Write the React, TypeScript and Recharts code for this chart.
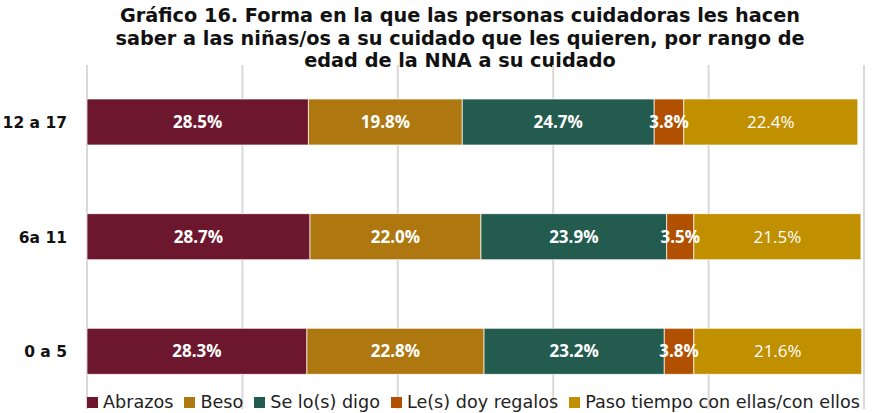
import React from "react"
import { BarChart, Bar, XAxis, YAxis, CartesianGrid, LabelList } from "recharts"

const categories = ["12 a 17", "6a 11", "0 a 5"]
const abrazos = [28.5, 28.7, 28.3]
const beso = [19.8, 22.0, 22.8]
const digo = [24.7, 23.9, 23.2]
const regalos = [3.8, 3.5, 3.8]
const paso = [22.4, 21.5, 21.6]
const xTicks = [0, 20, 40, 60, 80, 100]

const series = [
  { key: "abrazos", name: "Abrazos", values: abrazos, color: "#6D172F", bold: true },
  { key: "beso", name: "Beso", values: beso, color: "#AE770F", bold: true },
  { key: "digo", name: "Se lo(s) digo", values: digo, color: "#245B4F", bold: true },
  { key: "regalos", name: "Le(s) doy regalos", values: regalos, color: "#B05000", bold: true },
  { key: "paso", name: "Paso tiempo con ellas/con ellos", values: paso, color: "#C09000", bold: false },
]

const data = categories.map((c, i) => {
  const row: Record<string, string | number> = { name: c }
  series.forEach((s) => (row[s.key] = s.values[i]))
  return row
})

const fmt = (v: any) => `${Number(v).toFixed(1)}%`

export default function App() {
  return (
    <div style={{ position: "absolute", left: 0, top: 0, width: 891, height: 413, background: "#fff" }}>
      <div
        style={{
          position: "absolute",
          left: 0,
          top: 5,
          width: 920,
          textAlign: "center",
          fontFamily: "'DejaVu Sans', sans-serif",
          fontWeight: "bold",
          fontSize: 19.3,
          lineHeight: "22.5px",
          color: "#111",
        }}
      >
        Gráfico 16. Forma en la que las personas cuidadoras les hacen
        <br />
        saber a las niñas/os a su cuidado que les quieren, por rango de
        <br />
        edad de la NNA a su cuidado
      </div>
      <BarChart
        width={891}
        height={413}
        data={data}
        layout="vertical"
        margin={{ top: 65, right: 27, bottom: 4, left: 0 }}
        barSize={46}
        style={{ position: "absolute", left: 0, top: 0 }}
      >
        <CartesianGrid horizontal={false} stroke="#d9d9d9" strokeWidth={2} />
        <XAxis type="number" domain={[0, 100]} ticks={xTicks} hide />
        <YAxis
          type="category"
          dataKey="name"
          width={87}
          axisLine={false}
          tickLine={false}
          tickMargin={14}
          tick={{ fill: "#111", fontSize: 15.5, fontWeight: "bold", fontFamily: "'DejaVu Sans', sans-serif" }}
        />
        {series.map((s) => (
          <Bar key={s.key} dataKey={s.key} name={s.name} stackId="a" fill={s.color} stroke="#fff" strokeWidth={0.7} isAnimationActive={false}>
            <LabelList
              dataKey={s.key}
              position="center"
              formatter={fmt}
              fill="#fff"
              style={{ fontSize: 17, fontWeight: s.bold ? "bold" : "normal", fontFamily: "'Open Sans', sans-serif" }}
            />
          </Bar>
        ))}
      </BarChart>
      <div
        style={{
          position: "absolute",
          left: 87,
          top: 392,
          display: "flex",
          gap: 11,
          fontFamily: "'DejaVu Sans', sans-serif",
          fontSize: 17.6,
          color: "#222",
          whiteSpace: "nowrap",
        }}
      >
        {series.map((s) => (
          <div key={s.key} style={{ display: "flex", alignItems: "center", gap: 5 }}>
            <span style={{ width: 11, height: 11, background: s.color, display: "inline-block" }} />
            <span>{s.name}</span>
          </div>
        ))}
      </div>
    </div>
  )
}
